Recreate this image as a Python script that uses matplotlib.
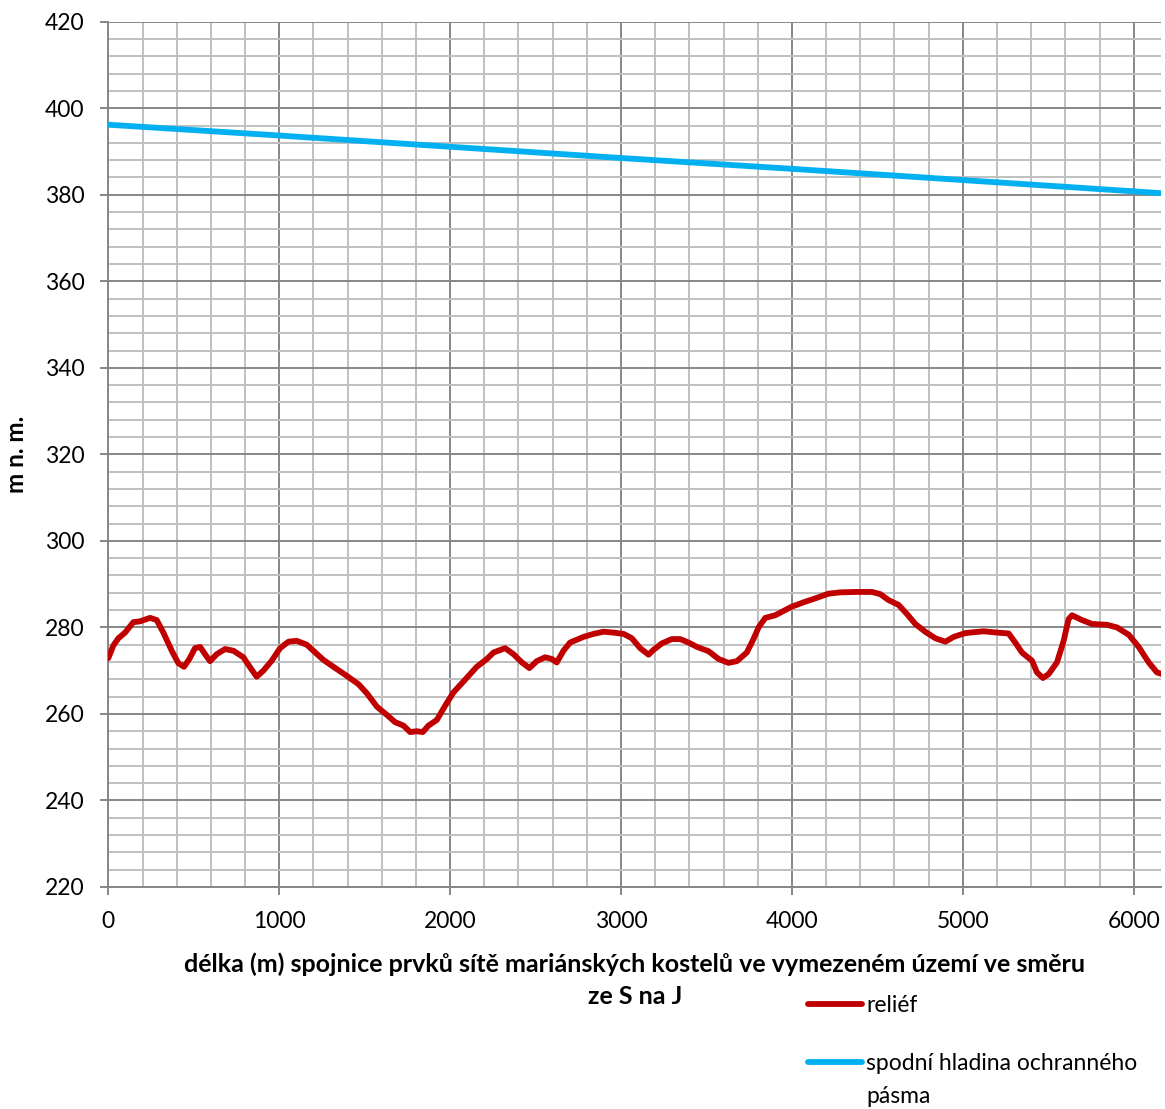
import matplotlib.pyplot as plt
from matplotlib.ticker import MultipleLocator

# profil terénu (reliéf) – délka v m, výška v m n. m.
relief_x = [0, 29, 59, 98, 146, 185, 244, 283, 322, 371, 410, 443, 474, 507, 537,
            566, 595, 634, 683, 732, 790, 829, 868, 907, 956, 1005, 1054, 1102,
            1161, 1200, 1258, 1317, 1395, 1463, 1512, 1571, 1629, 1678, 1727,
            1766, 1805, 1840, 1873, 1922, 1971, 2020, 2078, 2156, 2215, 2254,
            2322, 2371, 2420, 2464, 2507, 2556, 2595, 2624, 2663, 2702, 2780,
            2839, 2897, 2956, 3015, 3063, 3112, 3161, 3190, 3239, 3297, 3346,
            3395, 3444, 3512, 3571, 3629, 3678, 3736, 3775, 3805, 3844, 3902,
            3951, 4000, 4068, 4136, 4214, 4283, 4380, 4468, 4517, 4566, 4624,
            4673, 4722, 4780, 4839, 4898, 4946, 5015, 5122, 5200, 5268, 5307,
            5346, 5405, 5434, 5469, 5502, 5551, 5590, 5619, 5639, 5697, 5756,
            5844, 5902, 5971, 6029, 6088, 6136, 6166]
relief_y = [272.9, 275.8, 277.5, 278.8, 281.2, 281.4, 282.2, 281.7, 278.8, 274.6,
            271.7, 270.9, 272.7, 275.2, 275.5, 273.8, 272.2, 273.8, 275.0, 274.6,
            273.1, 270.8, 268.6, 270.0, 272.3, 275.2, 276.7, 276.9, 276.0, 274.6,
            272.5, 270.9, 268.8, 266.9, 264.8, 261.7, 259.8, 258.1, 257.3, 255.8,
            256.0, 255.8, 257.3, 258.6, 261.9, 265.0, 267.5, 270.9, 272.7, 274.2,
            275.2, 273.8, 271.9, 270.6, 272.2, 273.1, 272.7, 271.9, 274.6, 276.5,
            277.8, 278.5, 279.0, 278.8, 278.5, 277.5, 275.2, 273.7, 274.8, 276.3,
            277.3, 277.3, 276.5, 275.5, 274.5, 272.7, 271.8, 272.2, 274.2, 277.3,
            280.0, 282.2, 282.8, 283.8, 284.8, 285.8, 286.7, 287.8, 288.1, 288.2,
            288.2, 287.7, 286.3, 285.2, 283.1, 280.8, 279.0, 277.5, 276.7, 277.8,
            278.7, 279.1, 278.8, 278.6, 276.5, 274.2, 272.3, 269.6, 268.3, 269.2,
            271.9, 276.9, 281.9, 282.8, 281.7, 280.8, 280.6, 280.0, 278.3, 275.5,
            271.9, 269.6, 269.2]

# spodní hladina ochranného pásma
hladina_x = [0, 1000, 2000, 3000, 4000, 5000, 6000, 6166]
hladina_y = [396.2, 393.7, 391.1, 388.5, 386.0, 383.4, 380.8, 380.35]

plt.rcParams['font.family'] = ['Lato', 'DejaVu Sans']

fig = plt.figure(figsize=(11.65, 11.09), dpi=100)
ax = fig.add_axes([0.093, 0.2002, 0.9036, 0.7802])

ax.plot(relief_x, relief_y, color="#C00000", lw=4.2, solid_joinstyle='round',
        solid_capstyle='round', label="reliéf", zorder=3)
ax.plot(hladina_x, hladina_y, color="#00B0F0", lw=4.2, solid_capstyle='round',
        label="spodní hladina ochranného", zorder=3)

ax.set_xlim(0, 6160)
ax.set_ylim(220, 420)
ax.xaxis.set_major_locator(MultipleLocator(1000))
ax.xaxis.set_minor_locator(MultipleLocator(200))
ax.yaxis.set_major_locator(MultipleLocator(20))
ax.yaxis.set_minor_locator(MultipleLocator(4))

ax.grid(which='minor', color="#c0c0c0", lw=1.4)
ax.grid(which='major', color="#878787", lw=1.4)
ax.set_axisbelow(True)

for s in ['top', 'right']:
    ax.spines[s].set_visible(False)
for s in ['left', 'bottom']:
    ax.spines[s].set_color("#878787")
    ax.spines[s].set_linewidth(1.4)

ax.tick_params(which='major', direction='out', length=6, width=1.4,
               color="#878787", labelsize=16.5, pad=11)
ax.tick_params(which='minor', length=0)

ax.set_xlabel("délka (m) spojnice prvků sítě mariánských kostelů ve vymezeném území ve směru",
              fontsize=18, fontweight='bold', labelpad=15)
fig.text(0.5448, 0.1010, "ze S na J", fontsize=18, fontweight='bold',
         ha='center', va='center')
ax.set_ylabel("m n. m.", fontsize=17.5, fontweight='bold', labelpad=12)

leg = fig.legend(loc='upper left', bbox_to_anchor=(0.6936, 0.1028), frameon=False,
                 fontsize=16.5, handlelength=2.35, handletextpad=0.2,
                 labelspacing=1.6, borderpad=0, borderaxespad=0)

# druhý řádek popisku legendy
fig.canvas.draw()
t = leg.get_texts()[1]
bb = t.get_window_extent().transformed(fig.transFigure.inverted())
fig.text(bb.x0, bb.y0 - 0.011, "pásma", fontsize=16.5, va='top', ha='left')

fig.savefig("out.png", dpi=100)
